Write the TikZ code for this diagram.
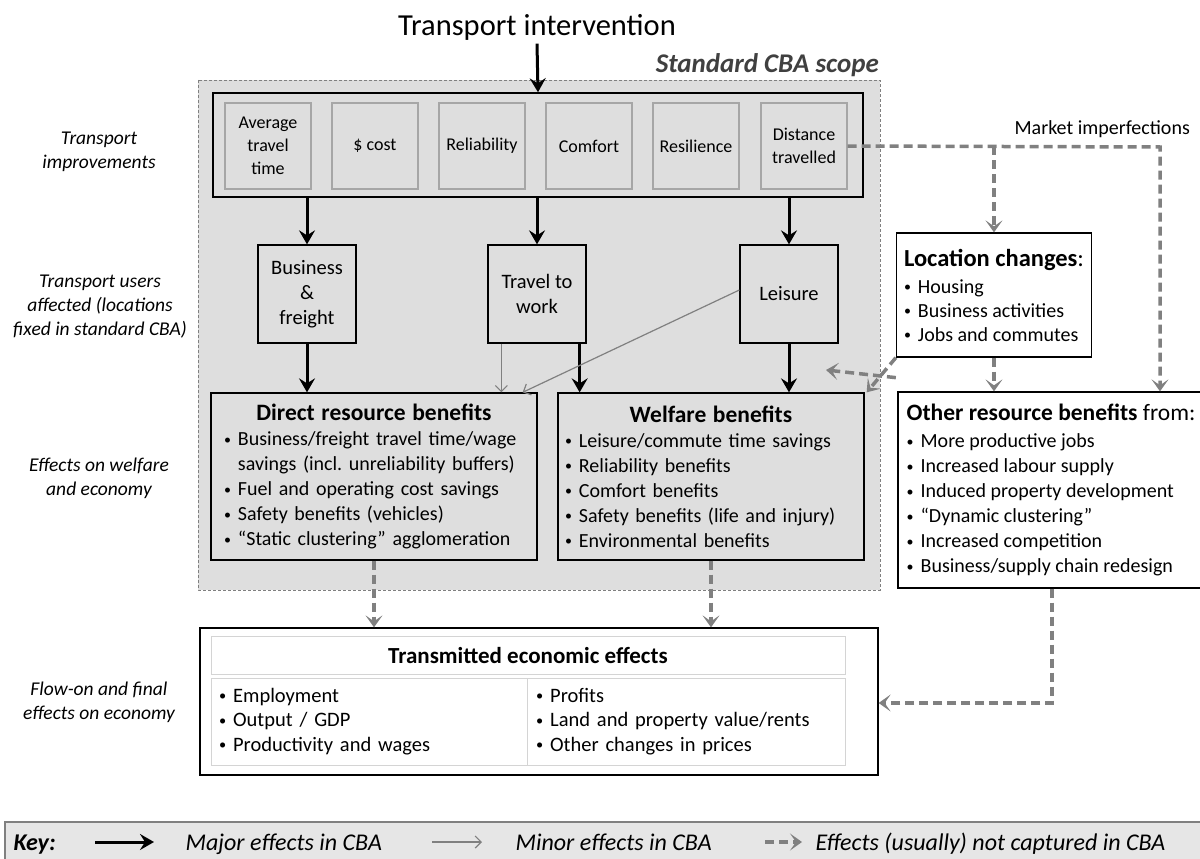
\documentclass[tikz,border=0pt]{standalone}
\usepackage{fontspec}
\setmainfont{Carlito}
\usetikzlibrary{arrows.meta}
\definecolor{scopegray}{HTML}{DEDEDE}
\definecolor{linegray}{HTML}{808080}
\definecolor{boxgray}{HTML}{A6A6A6}
\definecolor{keygray}{HTML}{E6E6E6}
\definecolor{cellgray}{HTML}{D4D4D4}
\newcommand{\fs}[2]{\fontsize{#1}{#2}\selectfont}
\newcommand{\bul}{\raisebox{0.15ex}{\scalebox{0.7}{\textbullet}}\hspace{7pt}}
\newcommand{\bulsp}{\phantom{\scalebox{0.7}{\textbullet}}\hspace{7pt}}
\frenchspacing

\begin{document}
\begin{tikzpicture}[x=1pt, y=-1pt,
    major/.style={line width=3pt, -{Stealth[length=14pt,width=16pt,inset=5pt]}},
    minor/.style={draw=linegray, line width=1.2pt, -{Straight Barb[length=6pt,width=12pt]}},
    nocba/.style={draw=linegray, line width=3.5pt, dash pattern=on 9pt off 5pt, -{Stealth[length=12pt,width=17pt,inset=6pt]}},
    sidelabel/.style={align=center, font=\fs{19.5}{24}\itshape},
    impbox/.style={draw=boxgray, line width=1.3pt, fill=scopegray, minimum width=86, minimum height=86, inner sep=0, align=center, font=\fs{18}{23}},
    userbox/.style={draw, line width=1.3pt, fill=scopegray, minimum width=98, minimum height=98, inner sep=0, align=center, font=\fs{20.5}{25}},
    benbox/.style={draw, line width=1.3pt, fill=scopegray, inner sep=0, font=\fs{20}{25}},
    wbox/.style={draw, line width=1.3pt, fill=white, inner sep=0, align=left},
    cell/.style={draw=cellgray, line width=0.8pt, fill=white, inner sep=0, font=\fs{20.5}{24.5}},
    keytext/.style={anchor=base west, font=\fs{24}{27}\itshape}]

\useasboundingbox (0,0) rectangle (1200,859);

% scope of a standard CBA
\draw[draw=gray, line width=0.8pt, dash pattern=on 3pt off 2pt, fill=scopegray] (198,80) rectangle (880,590);
\node[anchor=south east, font=\fs{27}{30}\bfseries\itshape, text=black!75, inner sep=0] (scope) at (879,77) {Standard CBA scope};

\node[font=\fs{30.5}{34}] (interv) at (537,27) {Transport intervention};

% side labels
\node[sidelabel] (lab1) at (99,152) {Transport\\improvements};
\node[sidelabel] (lab2) at (100,307) {Transport users\\affected (locations\\fixed in standard CBA)};
\node[sidelabel] (lab3) at (99,478) {Effects on welfare\\and economy};
\node[sidelabel] (lab4) at (99,702) {Flow-on and final\\effects on economy};

% transport improvements
\node[draw, line width=1.5pt, minimum width=650, minimum height=104, inner sep=0] (impr) at (538,145) {};
\node[impbox] (avg) at (268,146) {Average\\travel\\time};
\node[impbox] (cost) at (375,146) {\$ cost};
\node[impbox] (rel) at (482,146) {Reliability};
\node[impbox] (comf) at (589,146) {Comfort};
\node[impbox] (resil) at (696,146) {Resilience};
\node[impbox] (dist) at (804,146) {Distance\\travelled};

% transport users
\node[userbox] (bus) at (307,294) {Business\\\&\\freight};
\node[userbox] (trav) at (537,294) {Travel to\\work};
\node[userbox] (leis) at (789,294) {Leisure};

% benefits
\node[benbox, minimum width=326, minimum height=167, text width=300] (direct) at (374,476.5) {%
  {\centering\fs{23.5}{25}\bfseries Direct resource benefits\par}\raggedright
  \bul Business/freight travel time/wage\\
  \bulsp savings (incl. unreliability buffers)\\
  \bul Fuel and operating cost savings\\
  \bul Safety benefits (vehicles)\\
  \bul “Static clustering” agglomeration};
\node[benbox, minimum width=306, minimum height=167, text width=292] (welf) at (711,476.5) {%
  {\centering\fs{23.5}{25}\bfseries Welfare benefits\par}\raggedright
  \bul Leisure/commute time savings\\
  \bul Reliability benefits\\
  \bul Comfort benefits\\
  \bul Safety benefits (life and injury)\\
  \bul Environmental benefits};

% outside the standard scope
\node[wbox, minimum width=195, minimum height=124, font=\fs{20}{24}] (loc) at (994,295) {%
  {\fs{24.5}{24}\textbf{Location changes}:}\\[3pt]
  \bul Housing\\
  \bul Business activities\\
  \bul Jobs and commutes};
\node[wbox, minimum width=306, minimum height=196, font=\fs{20}{25}] (other) at (1051,490) {%
  {\fs{23.5}{25}\textbf{Other resource benefits} from:}\\[2pt]
  \bul More productive jobs\\
  \bul Increased labour supply\\
  \bul Induced property development\\
  \bul “Dynamic clustering”\\
  \bul Increased competition\\
  \bul Business/supply chain redesign};
\node[anchor=south east, font=\fs{20}{24}, inner sep=0] (mktxt) at (1190,138) {Market imperfections};

% transmitted effects
\node[draw, line width=1.3pt, minimum width=678, minimum height=147, inner sep=0] (trans) at (539,701.5) {};
\node[cell, minimum width=634, minimum height=38, font=\fs{23}{25}\bfseries] (thead) at (528,655) {Transmitted economic effects};
\node[cell, minimum width=316, minimum height=87, text width=300, align=left] (tleft) at (369,721.5) {%
  \bul Employment\\ \bul Output / GDP\\ \bul Productivity and wages};
\node[cell, minimum width=318, minimum height=87, text width=300, align=left] (tright) at (686,721.5) {%
  \bul Profits\\ \bul Land and property value/rents\\ \bul Other changes in prices};

% major effects
\draw[major] (interv.south) -- (impr.north);
\draw[major] (impr.south -| bus.north) -- (bus.north);
\draw[major] (impr.south -| trav.north) -- (trav.north);
\draw[major] (impr.south -| leis.north) -- (leis.north);
\draw[major] (bus.south) -- (bus.south |- direct.north);
\draw[major] ([xshift=-7pt]trav.south east) -- ([xshift=-7pt]trav.south east |- welf.north);
\draw[major] (leis.south) -- (leis.south |- welf.north);

% minor effects
\draw[minor] ([xshift=14pt]trav.south west) -- ([xshift=14pt]trav.south west |- direct.north);
\draw[minor] ([yshift=4pt]leis.west) -- ([xshift=-15pt]direct.north east);

% not captured
\coordinate (mk) at (1160,147);
\coordinate (lw) at (826,370);
\coordinate (ob) at (1052,703);
\draw[nocba] (dist.east) -- (mk) -- (mk |- other.north);
\draw[nocba] (dist.east -| loc.north) -- (loc.north);
\draw[nocba] (loc.south) -- (loc.south |- other.north);
\draw[nocba] ([yshift=-20pt]loc.south west) -- (lw);
\draw[nocba] (loc.south west) -- ([xshift=2pt]welf.north east);
\draw[nocba] (direct.south) -- (direct.south |- trans.north);
\draw[nocba] (welf.south) -- (welf.south |- trans.north);
\draw[nocba] (other.south -| ob) -- (ob) -- (trans.east |- ob);

% key
\draw[draw=linegray, line width=2pt, fill=keygray] (5,822) rectangle (1210,880);
\node[anchor=base west, font=\fs{24}{27}\bfseries\itshape] (key) at (10,850) {Key:};
\coordinate (k1a) at (95,842);
\coordinate (k1b) at (154,842);
\coordinate (k2a) at (432,842);
\coordinate (k2b) at (482,842);
\coordinate (k3a) at (765,842);
\coordinate (k3b) at (802,842);
\draw[major] (k1a) -- (k1b);
\draw[minor] (k2a) -- (k2b);
\draw[nocba] (k3a) -- (k3b);
\node[keytext] (kmaj) at (182,850) {Major effects in CBA};
\node[keytext] (kmin) at (512,850) {Minor effects in CBA};
\node[keytext] (knot) at (812,850) {Effects (usually) not captured in CBA};
\end{tikzpicture}
\end{document}
